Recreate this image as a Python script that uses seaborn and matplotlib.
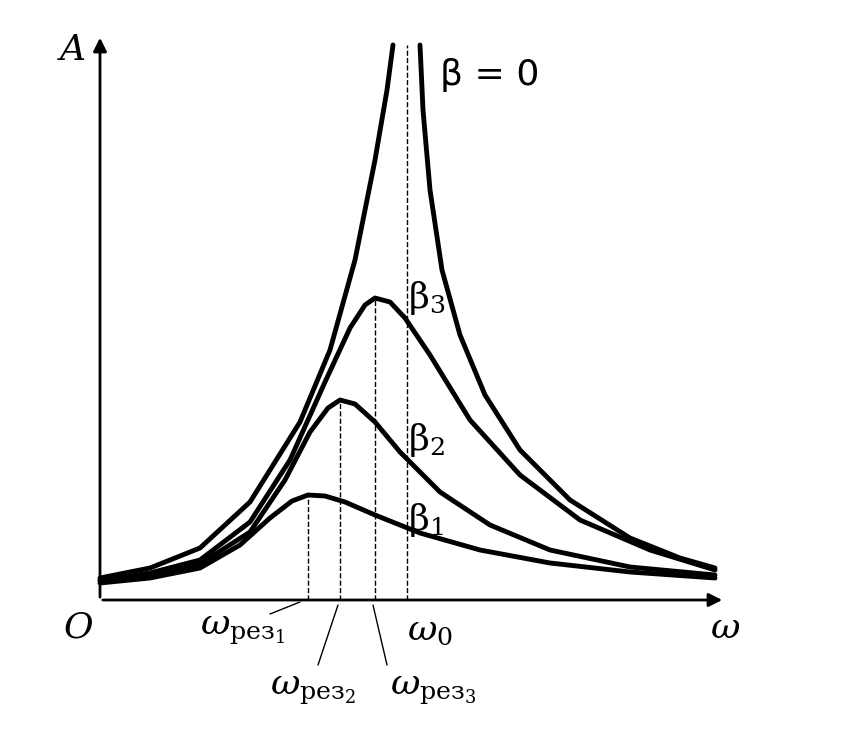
import numpy as np
import pandas as pd
import matplotlib.pyplot as plt
import seaborn as sns

sns.set_style("white")
plt.rcParams["mathtext.fontset"] = "dejavuserif"
plt.rcParams["font.family"] = ["DejaVu Serif"]
plt.rcParams["text.color"] = "black"

# curve points (x right of O, y above the axis, in px)
beta0_left_x = [0, 50, 100, 150, 200, 230, 255, 275, 287, 293]
beta0_left_y = [22, 32, 52, 98, 178, 250, 340, 440, 510, 555]
beta0_right_x = [320, 323, 330, 342, 360, 385, 420, 470, 530, 580, 615]
beta0_right_y = [555, 490, 410, 330, 265, 205, 150, 100, 62, 42, 32]

beta3_x = [0, 50, 100, 150, 190, 225, 250, 265, 275, 290, 305, 330, 370, 420, 480, 550, 615]
beta3_y = [20, 27, 40, 78, 140, 218, 272, 295, 302, 298, 282, 245, 180, 125, 80, 50, 30]

beta2_x = [0, 50, 100, 150, 185, 210, 228, 240, 255, 275, 300, 340, 390, 450, 530, 615]
beta2_y = [19, 24, 36, 68, 120, 168, 192, 200, 196, 178, 148, 108, 75, 50, 33, 25]

beta1_x = [0, 50, 100, 140, 170, 192, 208, 225, 245, 275, 320, 380, 450, 530, 615]
beta1_y = [17, 22, 32, 55, 82, 99, 105, 104, 98, 85, 67, 50, 37, 28, 22]

res_x = [208, 240, 275, 307]        # ω_рез1, ω_рез2, ω_рез3, ω0
res_top = [105, 200, 302, 555]
curve_labels = ["β = 0", r"β$_3$", r"β$_2$", r"β$_1$"]

fig = plt.figure(figsize=(8.42, 7.47), dpi=100)
ax = fig.add_axes([0, 0, 1, 1])
ax.set_xlim(-100, 742)
ax.set_ylim(-147, 600)
ax.axis("off")

for xs, ys in [(beta0_left_x, beta0_left_y), (beta0_right_x, beta0_right_y),
               (beta3_x, beta3_y), (beta2_x, beta2_y), (beta1_x, beta1_y)]:
    df = pd.DataFrame({"x": xs, "y": ys})
    sns.lineplot(data=df, x="x", y="y", ax=ax, sort=False, color="black",
                 lw=3.5, estimator=None)
ax.set_xlabel("")
ax.set_ylabel("")

for x, top in zip(res_x, res_top):
    ax.plot([x, x], [0, top], ls="--", color="black", lw=1)

# axes with arrows
ax.annotate("", xy=(625, 0), xytext=(0, 0),
            arrowprops=dict(arrowstyle="-|>", color="black", lw=2, mutation_scale=20))
ax.annotate("", xy=(0, 565), xytext=(0, 0),
            arrowprops=dict(arrowstyle="-|>", color="black", lw=2, mutation_scale=20))

fs = 26
ax.text(-40, 550, "A", fontsize=fs, style="italic", ha="left", va="center")
ax.text(-22, -28, "O", fontsize=fs, style="italic", ha="center", va="center")
ax.text(625, -28, r"$\omega$", fontsize=fs, ha="center", va="center")
ax.text(340, 525, curve_labels[0], fontsize=fs, ha="left", va="center", family="DejaVu Sans")
ax.text(308, 302, curve_labels[1], fontsize=fs, ha="left", va="center")
ax.text(308, 160, curve_labels[2], fontsize=fs, ha="left", va="center")
ax.text(308, 80, curve_labels[3], fontsize=fs, ha="left", va="center")

ax.text(307, -30, r"$\omega_0$", fontsize=fs, ha="left", va="center")
ax.text(100, -30, r"$\omega_{\mathrm{рез}_1}$", fontsize=fs, ha="left", va="center")
ax.plot([170, 200], [-14, -2], color="black", lw=1)
ax.text(170, -90, r"$\omega_{\mathrm{рез}_2}$", fontsize=fs, ha="left", va="center")
ax.plot([218, 238], [-65, -5], color="black", lw=1)
ax.text(290, -90, r"$\omega_{\mathrm{рез}_3}$", fontsize=fs, ha="left", va="center")
ax.plot([287, 273], [-65, -5], color="black", lw=1)

fig.savefig("out.png", dpi=100)
